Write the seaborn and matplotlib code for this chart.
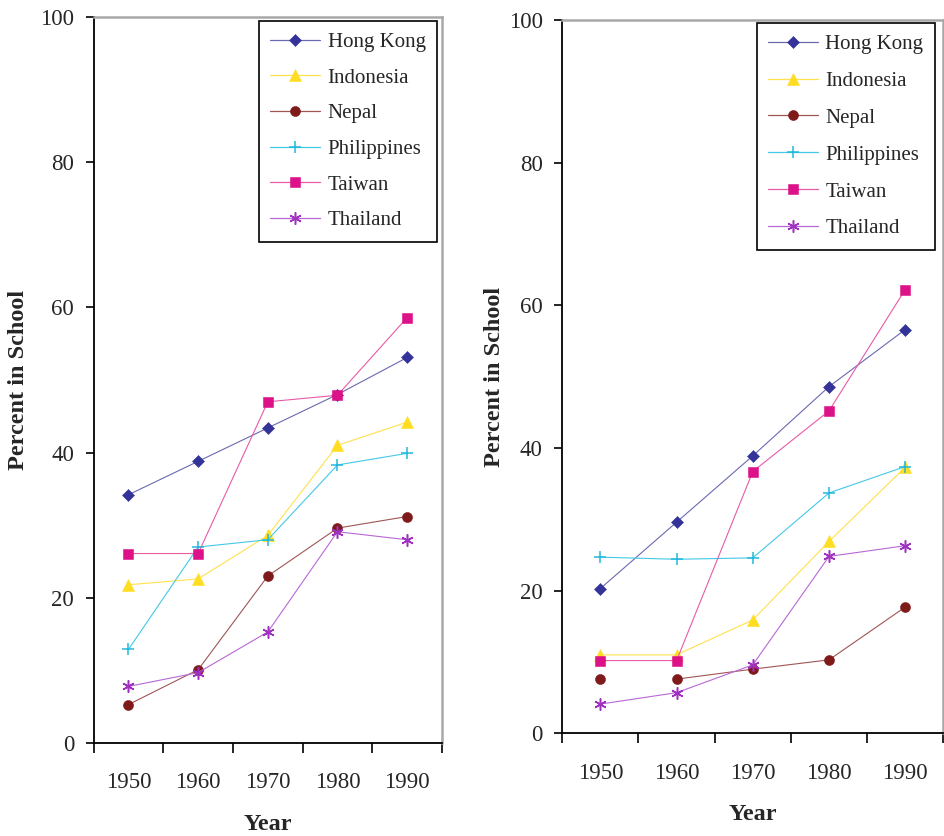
import matplotlib
matplotlib.use("Agg")
import matplotlib.pyplot as plt
from matplotlib.ticker import FixedLocator
import seaborn as sns
import numpy as np

years = ["1950", "1960", "1970", "1980", "1990"]
countries = ["Hong Kong", "Indonesia", "Nepal", "Philippines", "Taiwan", "Thailand"]

# Percent in school, left panel
left_hong_kong = [34.2, 38.8, 43.4, 48.0, 53.1]
left_indonesia = [21.8, 22.6, 28.6, 41.0, 44.2]
left_nepal = [5.3, 10.1, 23.0, 29.6, 31.2]
left_philippines = [12.9, 27.0, 28.0, 38.3, 39.9]
left_taiwan = [26.1, 26.1, 47.0, 47.9, 58.6]
left_thailand = [7.8, 9.7, 15.3, 29.1, 28.0]

# Percent in school, right panel
right_hong_kong = [20.3, 29.6, 38.9, 48.6, 56.6]
right_indonesia = [11.0, 11.0, 15.9, 26.9, 37.3]
right_nepal = [7.6, 7.6, 9.0, 10.3, 17.7]
right_philippines = [24.7, 24.4, 24.6, 33.7, 37.4]
right_taiwan = [10.2, 10.2, 36.7, 45.2, 62.2]
right_thailand = [4.1, 5.7, 9.6, 24.8, 26.3]

y_ticks = [0, 20, 40, 60, 80, 100]

marker_color = {"Hong Kong": "#333399", "Indonesia": "#FFDD22", "Nepal": "#7F1A1A",
                "Philippines": "#22B8DC", "Taiwan": "#DD1188", "Thailand": "#A030C0"}
line_color = {"Hong Kong": "#6A6AB0", "Indonesia": "#FFE14D", "Nepal": "#A05555",
              "Philippines": "#44C8E8", "Taiwan": "#E85AA8", "Thailand": "#B868D4"}
marker_shape = {"Hong Kong": "D", "Indonesia": "^", "Nepal": "o",
                "Philippines": "+", "Taiwan": "s", "Thailand": (6, 2, 0)}
marker_size = {"Hong Kong": 6.3, "Indonesia": 8.8, "Nepal": 7.2,
               "Philippines": 8.8, "Taiwan": 7.4, "Thailand": 8.8}

sns.set_theme(style="white")
plt.rcParams["font.family"] = ["Liberation Serif", "DejaVu Serif"]

fig = plt.figure(figsize=(9.45, 8.36), dpi=100)
ax_l = fig.add_axes([0.0991, 0.1112, 0.3686, 0.8685])
ax_r = fig.add_axes([0.5950, 0.1228, 0.4032, 0.8533])

xpos = np.arange(len(years))


def marker_style(name):
    mk = marker_shape[name]
    open_marker = mk == "+" or isinstance(mk, tuple)
    return dict(marker=mk, markersize=marker_size[name],
                markerfacecolor=marker_color[name],
                markeredgecolor=marker_color[name],
                markeredgewidth=1.1 if open_marker else 0.4)


def draw_series(ax, name, values, skip_first_segment=False):
    style = dict(color=line_color[name], linewidth=0.8, **marker_style(name))
    if skip_first_segment:
        sns.lineplot(x=xpos[1:], y=values[1:], ax=ax, label=name, **style)
        ax.plot(xpos[:1], values[:1], linestyle="none", **marker_style(name))
    else:
        sns.lineplot(x=xpos, y=values, ax=ax, label=name, **style)


def style_axes(ax, legend_anchor, spacing, ylabel_pad):
    ax.set_xlim(-0.5, len(years) - 0.5)
    ax.set_ylim(0, 100)
    ax.set_yticks(y_ticks)
    ax.set_yticklabels([str(t) for t in y_ticks], fontsize=16.5)
    ax.set_xticks(xpos)
    ax.set_xticklabels(years, fontsize=16.5)
    ax.xaxis.set_minor_locator(FixedLocator(np.arange(-0.5, len(years), 1.0)))
    ax.tick_params(axis="x", which="major", length=0, pad=21)
    ax.tick_params(axis="x", which="minor", length=7, width=1.2, color="black",
                   direction="out", bottom=True)
    ax.tick_params(axis="y", which="major", length=6, width=1.2, color="black",
                   direction="out", left=True, pad=8)
    for side in ("left", "bottom"):
        ax.spines[side].set_color("black")
        ax.spines[side].set_linewidth(1.3)
    for side in ("top", "right"):
        ax.spines[side].set_color("#A8A8A8")
        ax.spines[side].set_linewidth(1.8)
    ax.set_xlabel("Year", fontsize=17.5, fontweight="bold", labelpad=15)
    ax.set_ylabel("Percent in School", fontsize=17.5, fontweight="bold",
                  labelpad=ylabel_pad)
    leg = ax.legend(loc="upper right", bbox_to_anchor=legend_anchor, borderaxespad=0,
                    fontsize=15, frameon=True, fancybox=False, framealpha=1,
                    edgecolor="black", handlelength=2.4, handletextpad=0.35,
                    labelspacing=spacing, borderpad=0.55)
    leg.get_frame().set_linewidth(1.2)
    for handle, text in zip(leg.legend_handles, leg.get_texts()):
        name = text.get_text()
        handle.set_color(line_color[name])
        handle.set_linewidth(0.9)
        st = marker_style(name)
        handle.set_marker(st["marker"])
        handle.set_markersize(st["markersize"])
        handle.set_markerfacecolor(st["markerfacecolor"])
        handle.set_markeredgecolor(st["markeredgecolor"])
        handle.set_markeredgewidth(st["markeredgewidth"])


left_data = [left_hong_kong, left_indonesia, left_nepal,
             left_philippines, left_taiwan, left_thailand]
right_data = [right_hong_kong, right_indonesia, right_nepal,
              right_philippines, right_taiwan, right_thailand]

for name, vals in zip(countries, left_data):
    draw_series(ax_l, name, vals)
for name, vals in zip(countries, right_data):
    draw_series(ax_r, name, vals, skip_first_segment=(name == "Nepal"))

style_axes(ax_l, (0.9857, 0.9945), 0.77, 8)
style_axes(ax_r, (0.978, 0.9958), 0.83, 3)

fig.savefig("out.png", dpi=100)
